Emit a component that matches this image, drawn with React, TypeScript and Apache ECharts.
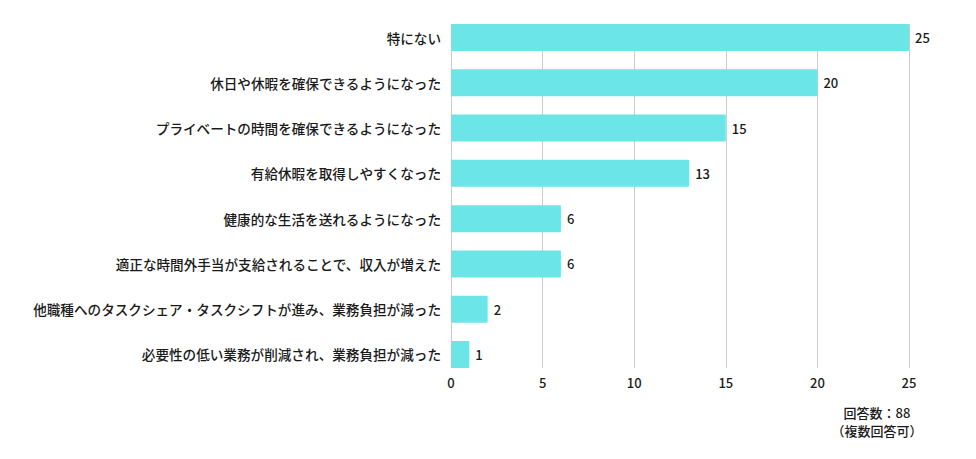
import React, { useEffect, useRef } from "react";
import * as echarts from "echarts";

const categories = [
  "特にない",
  "休日や休暇を確保できるようになった",
  "プライベートの時間を確保できるようになった",
  "有給休暇を取得しやすくなった",
  "健康的な生活を送れるようになった",
  "適正な時間外手当が支給されることで、収入が増えた",
  "他職種へのタスクシェア・タスクシフトが進み、業務負担が減った",
  "必要性の低い業務が削減され、業務負担が減った",
];
const values = [25, 20, 15, 13, 6, 6, 2, 1];
const xTicks = { min: 0, max: 25, interval: 5 };
const noteLines = ["回答数：88", "（複数回答可）"];

const FONT = "'Noto Sans CJK JP', 'Noto Sans', sans-serif";
const TEXT = "#1a1a1a";

export default function App() {
  const ref = useRef<HTMLDivElement>(null);
  useEffect(() => {
    if (!ref.current) return;
    const chart = echarts.init(ref.current, undefined, { renderer: "svg" });
    chart.setOption({
      animation: false,
      textStyle: { fontFamily: FONT },
      grid: [
        // bars and category labels
        { left: 443, right: 59, top: 6.9, bottom: 73.9, containLabel: false },
        // grid lines and value ticks, spanning first bar top to last bar bottom
        { left: 443, right: 59, top: 16, bottom: 83, containLabel: false },
      ],
      xAxis: [
        {
          gridIndex: 0,
          type: "value",
          ...xTicks,
          show: false,
          splitLine: { show: false },
        },
        {
          gridIndex: 1,
          type: "value",
          ...xTicks,
          axisLine: { show: false },
          axisTick: { show: false },
          axisLabel: { color: TEXT, fontSize: 13, fontWeight: 500, margin: 8, fontFamily: FONT },
          splitLine: { lineStyle: { color: "#cccccc", width: 1 } },
        },
      ],
      yAxis: [
        {
          gridIndex: 0,
          type: "category",
          inverse: true,
          data: categories,
          axisLine: { show: false },
          axisTick: { show: false },
          axisLabel: { color: TEXT, fontSize: 13.6, fontWeight: 500, margin: 10, fontFamily: FONT },
        },
        {
          gridIndex: 1,
          type: "category",
          data: categories,
          show: false,
        },
      ],
      series: [
        {
          type: "bar",
          xAxisIndex: 0,
          yAxisIndex: 0,
          data: values,
          barWidth: 27,
          z: 3,
          itemStyle: { color: "#6ce5e8", borderRadius: 1 },
          label: {
            show: true,
            position: "right",
            distance: 6,
            color: TEXT,
            fontSize: 13,
            fontWeight: 500,
            fontFamily: FONT,
          },
        },
      ],
      graphic: noteLines.map((t, i) => ({
        type: "text",
        x: 869,
        y: 404 + i * 18,
        style: {
          text: t,
          align: "center",
          verticalAlign: "middle",
          fill: TEXT,
          fontSize: 13,
          fontWeight: 500,
          fontFamily: FONT,
        },
      })),
    });
    return () => chart.dispose();
  }, []);
  return <div ref={ref} style={{ width: 960, height: 443 }} />;
}
